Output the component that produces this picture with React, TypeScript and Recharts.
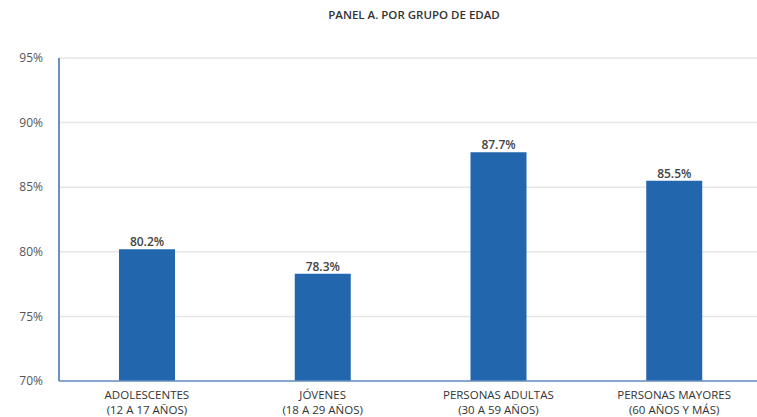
import { Bar, BarChart, CartesianGrid, LabelList, XAxis, YAxis } from "recharts";

const GROUPS = ["ADOLESCENTES", "JÓVENES", "PERSONAS ADULTAS", "PERSONAS MAYORES"];
const RANGES = ["(12 A 17 AÑOS)", "(18 A 29 AÑOS)", "(30 A 59 AÑOS)", "(60 AÑOS Y MÁS)"];
const VALUES = [80.2, 78.3, 87.7, 85.5];
const Y_TICKS = [70, 75, 80, 85, 90, 95];

const data = GROUPS.map((g, i) => ({ group: g, range: RANGES[i], value: VALUES[i] }));

const FONT = "'Open Sans', 'Noto Sans', sans-serif";

function CategoryTick(props: any) {
  const { x, y, payload, index } = props;
  return (
    <g>
      <text x={x} y={y + 10} textAnchor="middle" fill="#333" fontSize={11.5} fontFamily={FONT}>
        {payload.value}
      </text>
      <text x={x} y={y + 25} textAnchor="middle" fill="#333" fontSize={11.5} fontFamily={FONT}>
        {RANGES[index]}
      </text>
    </g>
  );
}

export default function App() {
  return (
    <div style={{ position: "absolute", left: 0, top: 0, width: 757, height: 417, overflow: "hidden", background: "#fff" }}>
      <div
        style={{
          position: "absolute",
          top: 7,
          left: 293,
          width: 242,
          textAlign: "center",
          fontFamily: FONT,
          fontSize: 11.5,
          fontWeight: 600,
          color: "#333",
          whiteSpace: "nowrap",
        }}
      >
        PANEL A. POR GRUPO DE EDAD
      </div>
      <BarChart
        width={765}
        height={417}
        data={data}
        margin={{ top: 58, right: 3, bottom: 0, left: 0 }}
        style={{ position: "absolute", left: 0, top: 0 }}
      >
        <CartesianGrid vertical={false} stroke="#e6e6e6" strokeWidth={1.5} />
        <XAxis
          dataKey="group"
          interval={0}
          tick={<CategoryTick />}
          tickLine={false}
          axisLine={{ stroke: "#6a8fc4", strokeWidth: 1.5 }}
          height={36}
        />
        <YAxis
          domain={[70, 95]}
          ticks={Y_TICKS}
          tickFormatter={(v) => `${v}%`}
          tick={{ fill: "#555", fontSize: 12, fontFamily: FONT }}
          tickLine={false}
          axisLine={{ stroke: "#6a8fc4", strokeWidth: 2 }}
          width={59}
          tickMargin={10}
        />
        <Bar dataKey="value" fill="#2267ad" barSize={56} isAnimationActive={false}>
          <LabelList
            dataKey="value"
            position="top"
            offset={3}
            formatter={(v: any) => `${Number(v).toFixed(1)}%`}
            style={{ fill: "#444", fontSize: 12, fontFamily: FONT, fontWeight: 600 }}
          />
        </Bar>
      </BarChart>
    </div>
  );
}
